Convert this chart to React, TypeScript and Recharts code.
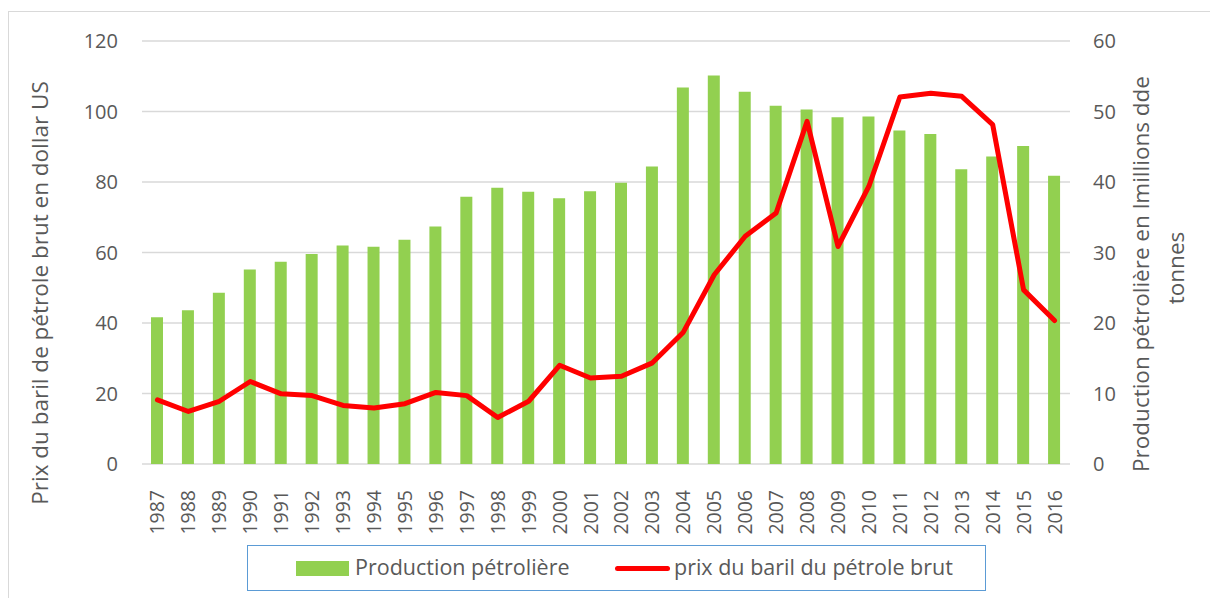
import { ComposedChart, Bar, Line, XAxis, YAxis, CartesianGrid, Legend } from 'recharts';

const years = [
  '1987', '1988', '1989', '1990', '1991', '1992', '1993', '1994', '1995', '1996',
  '1997', '1998', '1999', '2000', '2001', '2002', '2003', '2004', '2005', '2006',
  '2007', '2008', '2009', '2010', '2011', '2012', '2013', '2014', '2015', '2016',
];

// production pétrolière (millions de tonnes) - right axis
const production = [
  20.8, 21.8, 24.3, 27.6, 28.7, 29.8, 31.0, 30.8, 31.8, 33.7,
  37.9, 39.2, 38.6, 37.7, 38.7, 39.9, 42.2, 53.4, 55.1, 52.8,
  50.8, 50.3, 49.2, 49.3, 47.3, 46.8, 41.8, 43.6, 45.1, 40.9,
];

// prix du baril (dollar US) - left axis
const price = [
  18.2, 14.9, 17.8, 23.4, 19.9, 19.4, 16.6, 15.9, 17.1, 20.3,
  19.4, 13.2, 17.8, 28.0, 24.4, 24.9, 28.7, 37.4, 53.7, 64.6,
  71.2, 97.2, 61.7, 78.8, 104.1, 105.2, 104.3, 96.3, 49.4, 40.7,
];

const priceTicks = [0, 20, 40, 60, 80, 100, 120];
const productionTicks = [0, 10, 20, 30, 40, 50, 60];

const data = years.map((year, i) => ({
  year,
  production: production[i],
  price: price[i],
}));

const FONT = '"Open Sans", sans-serif';
const TEXT = '#595959';

const YearTick = ({ x, y, payload }: any) => (
  <text
    transform={`translate(${x + 7},${y + 18}) rotate(-90)`}
    textAnchor="end"
    fill={TEXT}
    fontSize={19.5}
    fontFamily={FONT}
  >
    {payload.value}
  </text>
);

const LegendBox = () => (
  <div
    style={{
      position: 'relative',
      width: 739,
      height: 46,
      boxSizing: 'border-box',
      border: '1.5px solid #5b9bd5',
      background: '#fff',
      fontFamily: FONT,
      fontSize: 21.5,
      color: TEXT,
    }}
  >
    <div style={{ position: 'absolute', left: 48, top: 15, width: 53, height: 15, background: '#92d050' }} />
    <span style={{ position: 'absolute', left: 107, top: 6, lineHeight: '30px', whiteSpace: 'nowrap' }}>
      Production pétrolière
    </span>
    <div
      style={{
        position: 'absolute',
        left: 367,
        top: 20,
        width: 55,
        height: 5,
        borderRadius: 3,
        background: '#ff0000',
      }}
    />
    <span style={{ position: 'absolute', left: 426, top: 6, lineHeight: '30px', whiteSpace: 'nowrap' }}>
      prix du baril du pétrole brut
    </span>
  </div>
);

export default function App() {
  return (
    <div style={{ position: 'relative', width: 1210, height: 598, overflow: 'hidden', background: '#fff' }}>
      <style>{'body{margin:0;overflow:hidden;}'}</style>
      <div
        style={{
          position: 'absolute',
          left: 8,
          top: 11,
          width: 1300,
          height: 700,
          border: '1.5px solid #d9d9d9',
        }}
      />
      <div style={{ position: 'absolute', left: 0, top: 0 }}>
        <ComposedChart
          width={1210}
          height={598}
          data={data}
          margin={{ top: 41, right: 0, left: 0, bottom: 7 }}
          barCategoryGap={0}
        >
          <CartesianGrid yAxisId="left" vertical={false} stroke="#d9d9d9" strokeWidth={1.5} />
          <XAxis
            dataKey="year"
            height={81}
            interval={0}
            axisLine={false}
            tickLine={false}
            tick={<YearTick />}
          />
          <YAxis
            yAxisId="left"
            width={142}
            domain={[0, 120]}
            ticks={priceTicks}
            axisLine={false}
            tickLine={false}
            tickSize={0}
            tickMargin={24}
            tick={{ fill: TEXT, fontSize: 20, fontFamily: FONT }}
            label={() => (
              <text
                transform="translate(48,293) rotate(-90)"
                textAnchor="middle"
                fill={TEXT}
                fontSize={22.5}
                fontFamily={FONT}
              >
                Prix du baril de pétrole brut en dollar US
              </text>
            )}
          />
          <YAxis
            yAxisId="right"
            orientation="right"
            width={140}
            domain={[0, 60]}
            ticks={productionTicks}
            axisLine={false}
            tickLine={false}
            tickSize={0}
            tickMargin={23}
            tick={{ fill: TEXT, fontSize: 20, fontFamily: FONT, textAnchor: 'start' }}
            label={() => (
              <g fill={TEXT} fontSize={22.5} fontFamily={FONT}>
                <text transform="translate(1149,274) rotate(-90)" textAnchor="middle">
                  Production pétrolière en lmillions dde
                </text>
                <text transform="translate(1184,268) rotate(-90)" textAnchor="middle">
                  tonnes
                </text>
              </g>
            )}
          />
          <Legend
            verticalAlign="bottom"
            height={46}
            width={739}
            wrapperStyle={{ left: 247 }}
            content={() => <LegendBox />}
          />
          <Bar
            yAxisId="right"
            dataKey="production"
            name="Production pétrolière"
            fill="#92d050"
            barSize={12}
            isAnimationActive={false}
          />
          <Line
            yAxisId="left"
            dataKey="price"
            name="prix du baril du pétrole brut"
            type="linear"
            stroke="#ff0000"
            strokeWidth={5}
            strokeLinejoin="round"
            strokeLinecap="round"
            dot={false}
            activeDot={false}
            isAnimationActive={false}
          />
        </ComposedChart>
      </div>
    </div>
  );
}
